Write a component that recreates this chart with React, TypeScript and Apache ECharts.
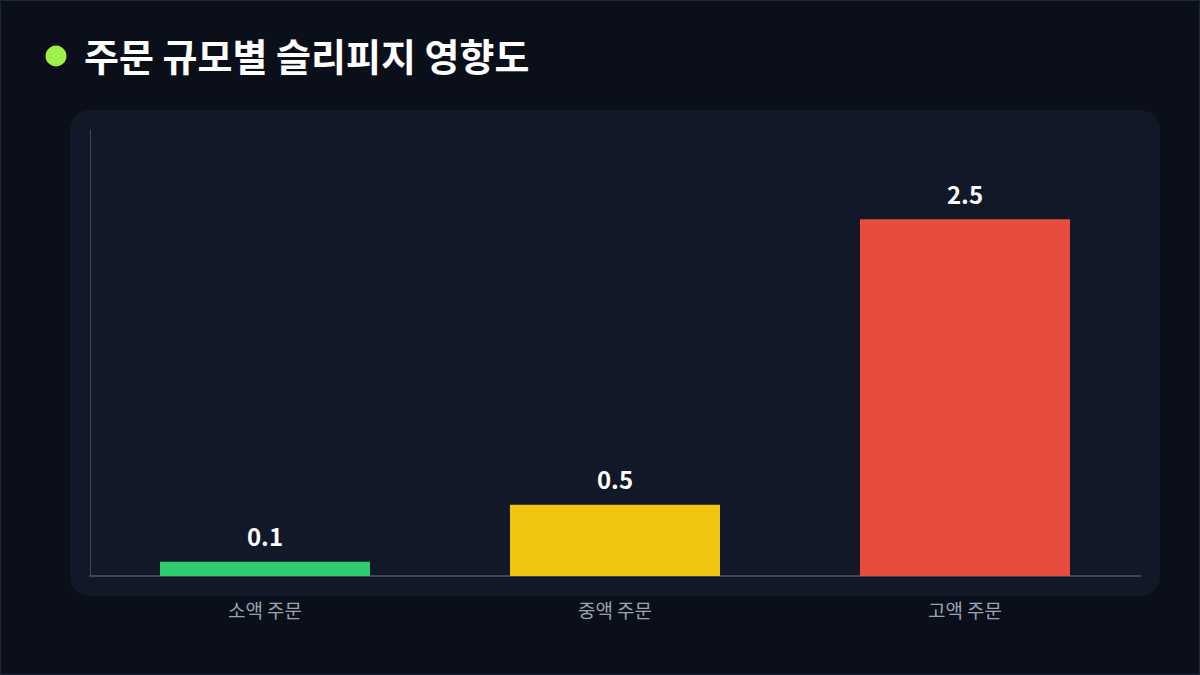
import { useRef, useEffect } from "react";
import * as echarts from "echarts";

// 주문 규모별 슬리피지 (%)
const categories = ["소액 주문", "중액 주문", "고액 주문"];
const slippage = [0.1, 0.5, 2.5];
const barColors = ["#2ecc71", "#f1c40f", "#e74c3c"];

const FONT = "'Noto Sans CJK KR', 'Noto Sans', sans-serif";

const App = () => {
  const chartRef = useRef<HTMLDivElement>(null);

  useEffect(() => {
    const myChart = echarts.init(chartRef.current, null, { renderer: "svg" });

    const option = {
      animation: false,
      backgroundColor: "#0b0f19",
      textStyle: { fontFamily: FONT },
      title: {
        text: "주문 규모별 슬리피지 영향도",
        left: 79,
        top: 30,
        textStyle: {
          color: "#ffffff",
          fontSize: 38,
          fontWeight: "bold",
          fontFamily: FONT,
        },
      },
      graphic: [
        // 바깥 테두리
        {
          type: "rect",
          silent: true,
          z: -10,
          shape: { x: 0.5, y: 0.5, width: 1199, height: 674 },
          style: { fill: "none", stroke: "#1e2536", lineWidth: 1 },
        },
        // 패널
        {
          type: "rect",
          silent: true,
          z: -10,
          shape: { x: 70, y: 110, width: 1090, height: 486, r: 20 },
          style: { fill: "#111827" },
        },
        // 제목 점
        {
          type: "circle",
          silent: true,
          shape: { cx: 56, cy: 56, r: 10.5 },
          style: { fill: "#9ef04a" },
        },
      ],
      grid: {
        left: 90,
        right: 60,
        top: 130,
        bottom: 99,
        containLabel: false,
      },
      xAxis: {
        type: "category",
        data: categories,
        axisLine: { show: true, lineStyle: { color: "#3f4859", width: 2 } },
        axisTick: { show: false },
        axisLabel: {
          color: "#9aa3b2",
          fontSize: 19,
          margin: 24,
          fontFamily: FONT,
        },
      },
      yAxis: {
        type: "value",
        min: 0,
        max: (v: { max: number }) => v.max * 1.25,
        axisLine: { show: true, lineStyle: { color: "#3f4859", width: 1 } },
        axisTick: { show: false },
        axisLabel: { show: false },
        splitLine: { show: false },
      },
      series: [
        {
          type: "bar",
          barWidth: "60%",
          data: slippage.map((v, i) => ({
            value: v,
            itemStyle: { color: barColors[i] },
          })),
          label: {
            show: true,
            position: "top",
            distance: 14,
            color: "#ffffff",
            fontSize: 24,
            fontWeight: "bold",
            fontFamily: FONT,
          },
        },
      ],
    };

    myChart.setOption(option);

    return () => {
      myChart.dispose();
    };
  }, []);

  return (
    <div
      ref={chartRef}
      style={{ position: "fixed", left: 0, top: 0, width: "1200px", height: "675px" }}
    ></div>
  );
};

export default App;
